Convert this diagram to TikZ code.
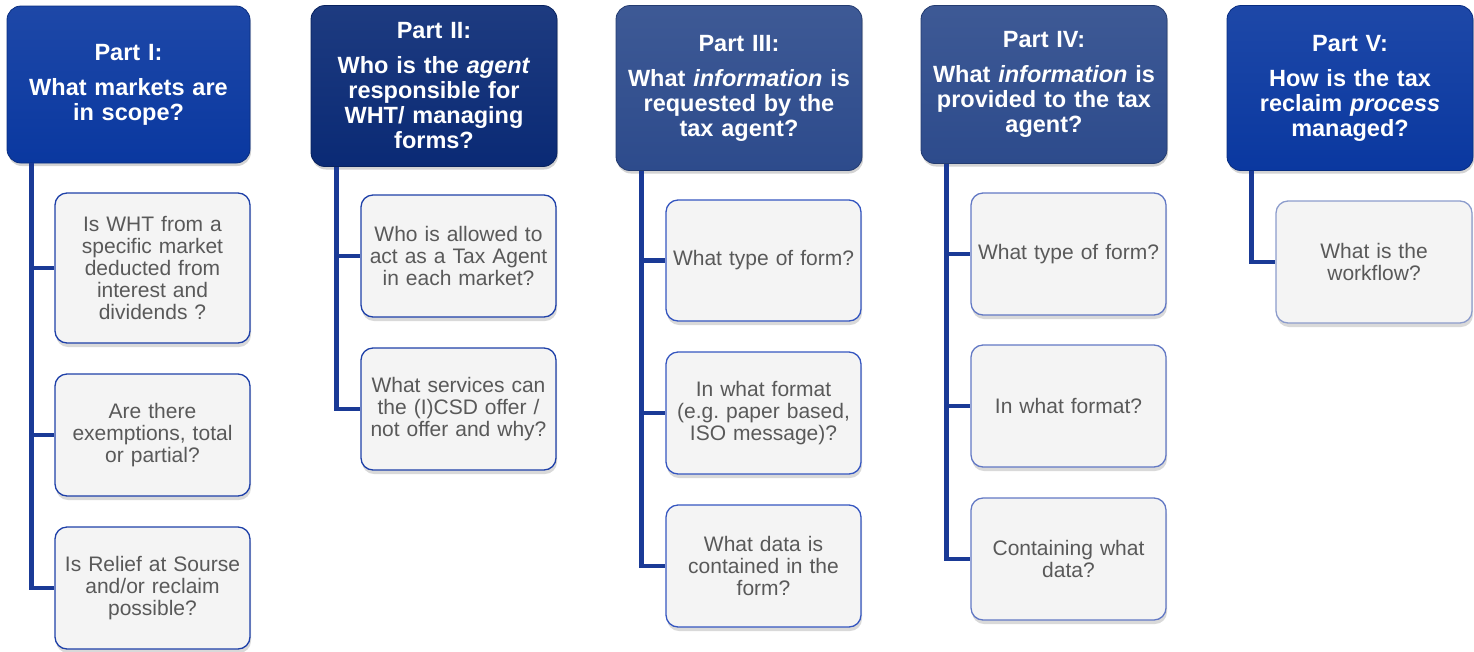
\documentclass[tikz,border=0pt]{standalone}
\usepackage{fontspec}
\setmainfont{Liberation Sans}
\usetikzlibrary{shadows}
\frenchspacing
\definecolor{hdrA}{HTML}{0A38A0}
\definecolor{hdrB}{HTML}{0A2A75}
\definecolor{hdrC}{HTML}{2D4B8C}
\definecolor{conn}{HTML}{1A3A96}
\definecolor{boxfill}{HTML}{F4F4F4}
\definecolor{boxtext}{HTML}{595959}
\definecolor{bdA}{HTML}{1E40A8}
\definecolor{bdC}{HTML}{3556C0}
\definecolor{bdD}{HTML}{6278C4}
\definecolor{bdE}{HTML}{8C9CCC}
\begin{document}
\begin{tikzpicture}[x=1pt,y=-1pt,
  hdr/.style={rounded corners=14pt, minimum width=246pt, text width=242pt, align=center,
    text=white, font=\fontsize{23.5}{25}\selectfont\bfseries, inner sep=0pt,
    draw=#1!80!black, line width=0.8pt,
    top color=#1!92!white, bottom color=#1,
    drop shadow={shadow xshift=1pt, shadow yshift=-3pt, opacity=0.35}},
  qbox/.style={rounded corners=12pt, minimum width=195pt, minimum height=122pt,
    text width=191pt, align=center, fill=boxfill, draw=#1, line width=1.3pt,
    text=boxtext, font=\fontsize{21}{22}\selectfont, inner sep=0pt,
    drop shadow={shadow xshift=1pt, shadow yshift=-4pt, opacity=0.3}},
  link/.style={draw=conn, line width=4.5pt}
]
\useasboundingbox (0,0) rectangle (1474,651);

% Headers
\node[hdr=hdrA, minimum width=243pt, minimum height=157pt] (h1) at (128.5,84.5)
  {Part I:\\[10pt]What markets are\\in scope?};
\node[hdr=hdrB, minimum height=161pt] (h2) at (434,86)
  {Part II:\\[10pt]Who is the \textit{agent}\\responsible for\\WHT/ managing\\forms?};
\node[hdr=hdrC, minimum height=165pt] (h3) at (739,88)
  {Part III:\\[10pt]What \textit{information} is\\requested by the\\tax agent?};
\node[hdr=hdrC, minimum height=158pt] (h4) at (1044,84.5)
  {Part IV:\\[10pt]What \textit{information} is\\provided to the tax\\agent?};
\node[hdr=hdrA, minimum height=165pt] (h5) at (1350,88)
  {Part V:\\[10pt]How is the tax\\reclaim \textit{process}\\managed?};

% Part I children
\node[qbox=bdA, minimum height=150pt] (c11) at (152.5,268)
  {Is WHT from a\\specific market\\deducted from\\interest and\\dividends ?};
\node[qbox=bdA] (c12) at (152.5,435)
  {Are there\\exemptions, total\\or partial?};
\node[qbox=bdA] (c13) at (152.5,588)
  {Is Relief at Sourse\\and/or reclaim\\possible?};

% Part II children
\node[qbox=bdA] (c21) at (458.5,256)
  {Who is allowed to\\act as a Tax Agent\\in each market?};
\node[qbox=bdA] (c22) at (458.5,409)
  {What services can\\the (I)CSD offer /\\not offer and why?};

% Part III children
\node[qbox=bdC, minimum height=121pt] (c31) at (763.5,260.5)
  {What type of form?};
\node[qbox=bdC] (c32) at (763.5,413)
  {In what format\\(e.g. paper based,\\ISO message)?};
\node[qbox=bdC] (c33) at (763.5,566)
  {What data is\\contained in the\\form?};

% Part IV children
\node[qbox=bdD] (c41) at (1068.5,254)
  {What type of form?};
\node[qbox=bdD] (c42) at (1068.5,406)
  {In what format?};
\node[qbox=bdD] (c43) at (1068.5,559)
  {Containing what\\data?};

% Part V child
\node[qbox=bdE, minimum width=196pt] (c51) at (1374,262)
  {What is the\\workflow?};

% Connectors
\foreach \c in {c11,c12,c13}{\draw[link] ([xshift=25pt]h1.south west) |- (\c.west);}
\foreach \c in {c21,c22}{\draw[link] ([xshift=26pt]h2.south west) |- (\c.west);}
\foreach \c in {c31,c32,c33}{\draw[link] ([xshift=26pt]h3.south west) |- (\c.west);}
\foreach \c in {c41,c42,c43}{\draw[link] ([xshift=26pt]h4.south west) |- (\c.west);}
\draw[link] ([xshift=25pt]h5.south west) |- (c51.west);
\end{tikzpicture}
\end{document}
